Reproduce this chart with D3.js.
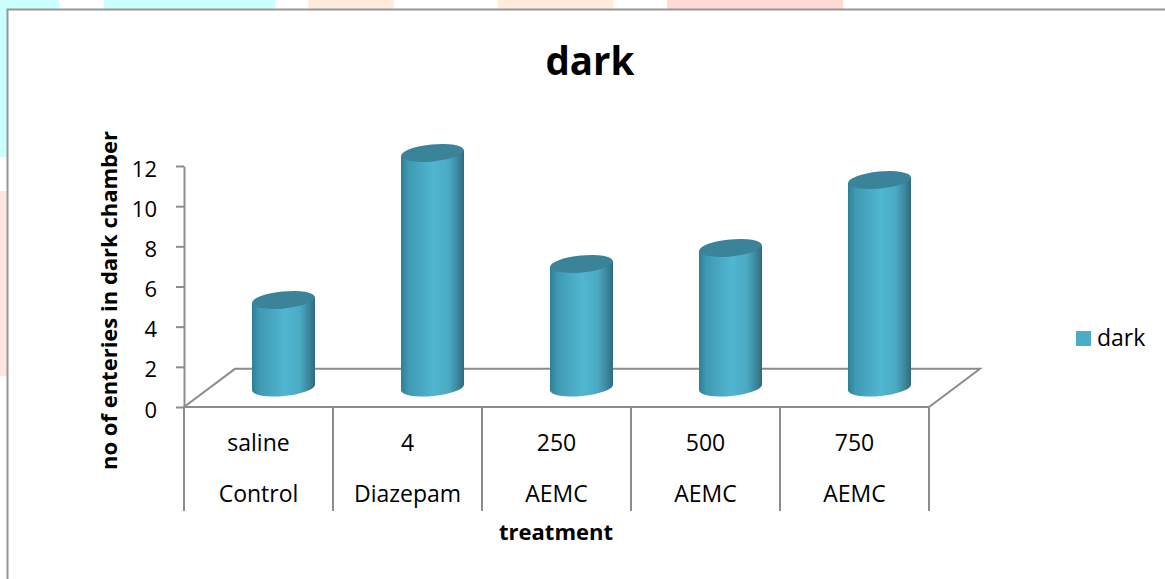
<!DOCTYPE html>
<html>
<head>
<meta charset="utf-8">
<script src="https://cdn.jsdelivr.net/npm/d3@7"></script>
<style>
  html, body { margin: 0; padding: 0; background: #fff; overflow: hidden; }
  text { font-family: "Open Sans", "Noto Sans", sans-serif; fill: #000; }
</style>
</head>
<body>
<div id="chart"></div>
<script>
const doses = ["saline", "4", "250", "500", "750"];
const groups = ["Control", "Diazepam", "AEMC", "AEMC", "AEMC"];
const values = [4.36, 11.68, 6.15, 6.95, 10.33];
const yTicks = [0, 2, 4, 6, 8, 10, 12];

const width = 1165, height = 579;
const axisColor = "#8c8c8c";

const svg = d3.select("#chart").append("svg")
  .attr("width", width)
  .attr("height", height)
  .style("display", "block");

// pale blobs of the page behind the chart
const blobs = [
  { x: 0, y: 0, w: 7, h: 157, c: "#ccffff" },
  { x: 0, y: 0, w: 59, h: 9, c: "#ccffff" },
  { x: 104, y: 0, w: 171, h: 9, c: "#ccffff" },
  { x: 308, y: 0, w: 86, h: 9, c: "#ffecdc" },
  { x: 498, y: 0, w: 115, h: 9, c: "#ffecdc" },
  { x: 667, y: 0, w: 176, h: 9, c: "#ffd9d4" },
  { x: 0, y: 191, w: 7, h: 185, c: "#ffe4e1" }
];
svg.selectAll(".blob").data(blobs).enter().append("rect")
  .attr("class", "blob")
  .attr("x", d => d.x).attr("y", d => d.y)
  .attr("width", d => d.w).attr("height", d => d.h)
  .attr("fill", d => d.c);

// chart frame, top and left only
svg.append("path")
  .attr("d", `M7.5,${height}V9.5H${width}`)
  .attr("fill", "none")
  .attr("stroke", "#969696")
  .attr("stroke-width", 2);

const defs = svg.append("defs");
const grad = defs.append("linearGradient").attr("id", "cyl");
[["0%", "#2f7f96"], ["12%", "#3f9ab3"], ["52%", "#50b6d1"], ["76%", "#4aaac3"], ["92%", "#3a8298"], ["100%", "#2e6a7e"]]
  .forEach(s => grad.append("stop").attr("offset", s[0]).attr("stop-color", s[1]));

const x = d3.scaleBand().domain(d3.range(doses.length)).range([184, 929]);
const y = d3.scaleLinear().domain([0, 12]).range([407, 166]);

// floor of the 3d box
const depthX = 51, depthY = y(0) - y(1.9);
svg.append("path")
  .attr("d", `M${x.range()[0]},${y(0)}L${x.range()[0] + depthX},${y(0) - depthY}H${x.range()[1] + depthX}L${x.range()[1]},${y(0)}Z`)
  .attr("fill", "none")
  .attr("stroke", axisColor)
  .attr("stroke-width", 2);

// value axis
const yAxis = d3.axisLeft(y).tickValues(yTicks).tickSize(8).tickPadding(19).tickSizeOuter(0);
const yG = svg.append("g").attr("transform", "translate(184,0)").call(yAxis);
yG.selectAll("line, path").attr("stroke", axisColor).attr("stroke-width", 2);
yG.selectAll("text").style("font-size", "22px").attr("dy", "0.46em").attr("fill", "#000");

// category separators, two level labels
const seps = d3.range(doses.length + 1).map(i => i < doses.length ? x(i) : x.range()[1]);
svg.selectAll(".sep").data(seps).enter().append("line")
  .attr("class", "sep")
  .attr("x1", d => d).attr("x2", d => d)
  .attr("y1", y(0)).attr("y2", 511)
  .attr("stroke", axisColor).attr("stroke-width", 2);

svg.selectAll(".dose").data(doses).enter().append("text")
  .attr("class", "dose")
  .attr("x", (d, i) => x(i) + x.bandwidth() / 2)
  .attr("y", 451)
  .attr("text-anchor", "middle")
  .style("font-size", "23px")
  .text(d => d);

svg.selectAll(".group").data(groups).enter().append("text")
  .attr("class", "group")
  .attr("x", (d, i) => x(i) + x.bandwidth() / 2)
  .attr("y", 502)
  .attr("text-anchor", "middle")
  .style("font-size", "23px")
  .text(d => d);

// cylinders, the base sits back on the floor so it is shifted up
const baseShift = 19.5, rx = 31.5, ry = 8.5, tilt = -5.5;
const cx = i => x(i) + x.bandwidth() / 2 + 25;
const slope = Math.tan(tilt * Math.PI / 180) * rx;

const bars = svg.selectAll(".bar").data(values).enter().append("g")
  .attr("class", "bar");

bars.append("path")
  .attr("d", (d, i) => {
    const top = y(d) - baseShift, base = y(0) - baseShift;
    return `M${cx(i) - rx},${top - slope}` +
      `L${cx(i) - rx},${base - slope}` +
      `A${rx},${ry} ${tilt} 0 0 ${cx(i) + rx},${base + slope}` +
      `L${cx(i) + rx},${top + slope}Z`;
  })
  .attr("fill", "url(#cyl)");

bars.append("ellipse")
  .attr("transform", (d, i) => `translate(${cx(i)},${y(d) - baseShift}) rotate(${tilt})`)
  .attr("rx", rx)
  .attr("ry", ry)
  .attr("fill", "#3b8399");

// titles
svg.append("text")
  .attr("x", 590).attr("y", 75)
  .attr("text-anchor", "middle")
  .style("font-size", "38.5px").style("font-weight", "700")
  .text("dark");

svg.append("text")
  .attr("transform", "translate(117,300.5) rotate(-90)")
  .attr("text-anchor", "middle")
  .style("font-size", "22px").style("font-weight", "700")
  .text("no of enteries in dark chamber");

svg.append("text")
  .attr("x", 556).attr("y", 540)
  .attr("text-anchor", "middle")
  .style("font-size", "22px").style("font-weight", "700")
  .text("treatment");

// legend
svg.append("rect")
  .attr("x", 1076).attr("y", 331)
  .attr("width", 15).attr("height", 15)
  .attr("fill", "#4bacc6");
svg.append("text")
  .attr("x", 1097).attr("y", 346)
  .style("font-size", "23px")
  .text("dark");
</script>
</body>
</html>
